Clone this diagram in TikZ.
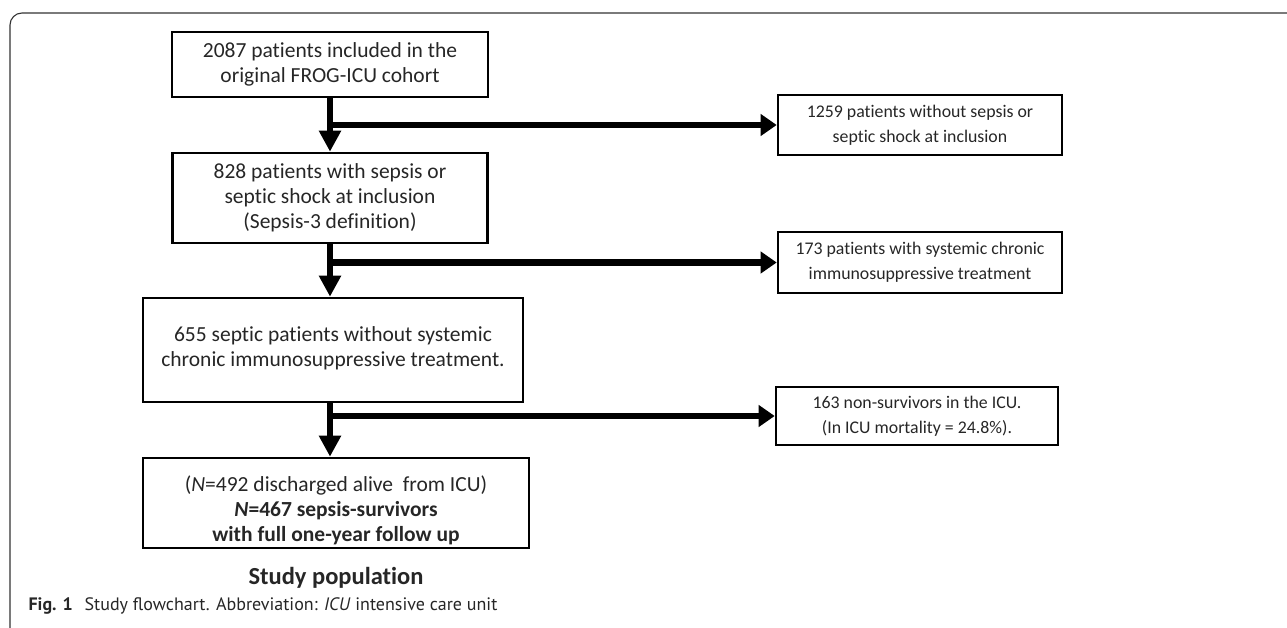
\documentclass[tikz,border=0pt]{standalone}
\usepackage{fontspec}
\setmainfont{Carlito}[RawFeature={-liga;-clig;-calt;-dlig}]
\newfontfamily\capfont{PT Sans}
\usepackage{tikz}
\usetikzlibrary{arrows.meta,positioning}

\begin{document}
\begin{tikzpicture}[
    x=1pt, y=-1pt,
    box/.style={draw, line width=2.6pt, align=center, text=black!85, inner sep=2pt,
        font=\fontsize{21.5}{25}\selectfont},
    sidebox/.style={box, font=\fontsize{17.8}{25}\selectfont},
    arr/.style={-{Triangle[length=21pt, width=21pt]}, line width=6.5pt},
    branch/.style={-{Triangle[length=16pt, width=21pt]}, line width=6.5pt}
]
\useasboundingbox (0,0) rectangle (1287,628);
% outer frame
\draw[line width=1.1pt, black!80, rounded corners=12pt] (10,640) -- (10,13) -- (1300,13);

% main column
\node[box, minimum width=316pt, minimum height=65pt] (incl) at (330,64.5) {2087 patients included in the\\ original FROG-ICU cohort};
\node[box, minimum width=315pt, minimum height=90pt] (sepsis) at (330,198) {828 patients with sepsis or\\ septic shock at inclusion\\ (Sepsis-3 definition)};
\node[box, minimum width=380pt, minimum height=104pt] (septic) at (333,350) {655 septic patients without systemic\\ chronic immunosuppressive treatment.\rule[-6pt]{0pt}{1pt}};
\node[box, minimum width=386pt, minimum height=90pt] (surv) at (336,503) {\rule{0pt}{30pt}(\textit{N}=492 discharged alive\ \ from ICU)\\ \textbf{\textit{N}=467 sepsis-survivors}\\ \textbf{with full one-year follow up}};
\node[font=\fontsize{24.5}{28}\selectfont\bfseries, text=black!85] (pop) at (336,578) {Study population};

% excluded
\node[sidebox, minimum width=284pt, minimum height=60pt] (nosep) at (920,125) {1259 patients without sepsis or\\ septic shock at inclusion};
\node[sidebox, minimum width=284pt, minimum height=61pt] (immuno) at (920,262.5) {173 patients with systemic chronic\\ immunosuppressive treatment};
\node[sidebox, minimum width=282pt, minimum height=58pt] (dead) at (917,416) {163 non-survivors in the ICU.\\ (In ICU mortality = 24.8\%).};

\draw[arr] (incl.south -| 330,0) -- (sepsis.north -| 330,0);
\draw[arr] (sepsis.south -| 330,0) -- (septic.north -| 330,0);
\draw[arr] (septic.south -| 330,0) -- (surv.north -| 330,0);
\draw[branch] (330,0 |- nosep.west) -- (nosep.west);
\draw[branch] (330,0 |- immuno.west) -- (immuno.west);
\draw[branch] (330,0 |- dead.west) -- (dead.west);

% caption
\node[anchor=west, font=\capfont\fontsize{18}{21}\selectfont, text=black!85] (cap) at (25,606) {\textbf{Fig. 1}\hspace{7pt} Study flowchart. Abbreviation: \textit{ICU} intensive care unit};
\end{tikzpicture}
\end{document}
